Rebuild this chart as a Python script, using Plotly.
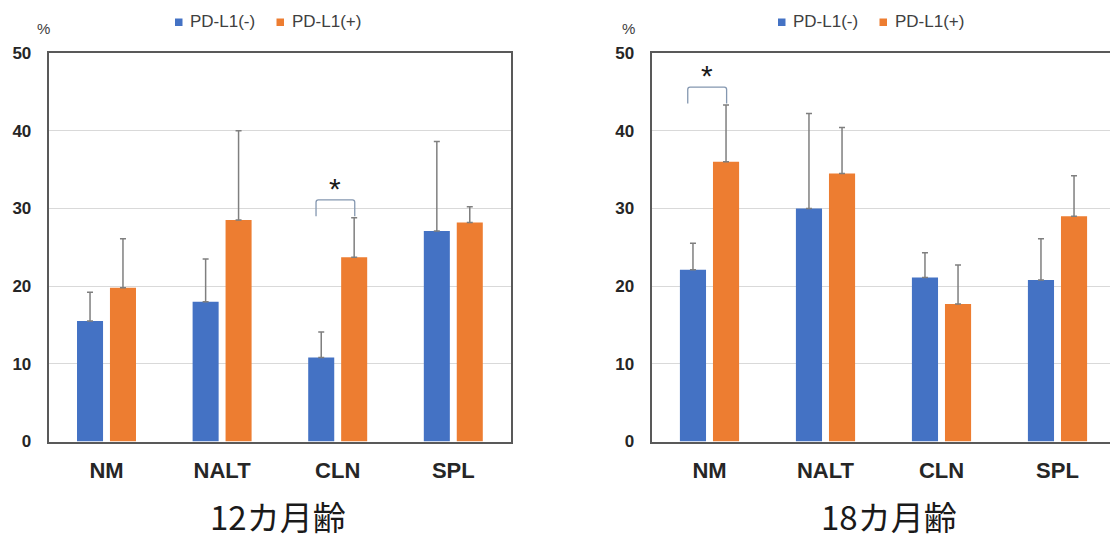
import plotly.graph_objects as go

# Data (mean ± SD, %)
categories = ["NM", "NALT", "CLN", "SPL"]

m12_neg = [15.5, 18.0, 10.8, 27.1]
m12_neg_sd = [3.7, 5.5, 3.3, 11.5]
m12_pos = [19.8, 28.5, 23.7, 28.2]
m12_pos_sd = [6.3, 11.5, 5.1, 2.0]

m18_neg = [22.1, 30.0, 21.1, 20.8]
m18_neg_sd = [3.4, 12.2, 3.2, 5.3]
m18_pos = [36.0, 34.5, 17.7, 29.0]
m18_pos_sd = [7.3, 5.9, 5.0, 5.2]

series_names = ["PD-L1(-)", "PD-L1(+)"]
panel_titles = ["12カ月齢", "18カ月齢"]
y_ticks = [0, 10, 20, 30, 40, 50]

# significant pair per panel: category index
sig_12 = 2   # CLN
sig_18 = 0   # NM

W, H = 1110, 542
BLUE = "#4472C4"
ORANGE = "#ED7D31"
ERR = "#7F7F7F"
AXIS = "#595959"
GRID = "#D9D9D9"
TXT = "#262626"
BARGAP = 0.43
BARGROUPGAP = 0.21


def px(x):
    return x / W


def py(y):
    return 1 - y / H


def err(sd):
    return dict(type="data", array=sd, arrayminus=[0] * len(sd), symmetric=False,
                color=ERR, thickness=1.5, width=3)


fig = go.Figure()
panels = [
    ("x", "y", m12_neg, m12_neg_sd, m12_pos, m12_pos_sd),
    ("x2", "y2", m18_neg, m18_neg_sd, m18_pos, m18_pos_sd),
]
for xa, ya, neg, neg_sd, pos, pos_sd in panels:
    fig.add_trace(go.Bar(x=list(range(len(categories))), y=neg, error_y=err(neg_sd),
                         marker=dict(color=BLUE, line=dict(width=0)),
                         name=series_names[0], xaxis=xa, yaxis=ya, showlegend=False,
                         offsetgroup="neg"))
    fig.add_trace(go.Bar(x=list(range(len(categories))), y=pos, error_y=err(pos_sd),
                         marker=dict(color=ORANGE, line=dict(width=0)),
                         name=series_names[1], xaxis=xa, yaxis=ya, showlegend=False,
                         offsetgroup="pos"))

# plot-area geometry in pixels
left_x0, cat_w_left = 48.7, 115.6
right_x0, cat_w_right = 651.5, 116.0
y_top, y_bot = 53, 441.5
ydom = [py(y_bot), py(y_top)]

tickfont = dict(family="Liberation Sans, Arial", size=17, color=TXT)
catfont = dict(family="Liberation Sans, Arial", size=22, color=TXT)

common_x = dict(tickmode="array", tickvals=list(range(len(categories))),
                ticktext=[f"<b>{c}</b>" for c in categories], tickfont=catfont,
                showgrid=False, zeroline=False, showline=True, linecolor=AXIS,
                linewidth=2, ticks="", ticklabelstandoff=8, fixedrange=True,
                automargin=False)
common_y = dict(range=[0, 50], tickmode="array", tickvals=y_ticks,
                ticktext=[f"<b>{t}</b>" for t in y_ticks], tickfont=tickfont,
                showgrid=True, gridcolor=GRID, gridwidth=1, zeroline=False,
                showline=True, linecolor=AXIS, linewidth=2, ticks="",
                ticklabelstandoff=12, fixedrange=True, automargin=False)

right_span = (W - right_x0) / cat_w_right

fig.update_layout(
    width=W, height=H,
    margin=dict(l=0, r=0, t=0, b=0, autoexpand=False),
    paper_bgcolor="white", plot_bgcolor="white",
    barmode="group", bargap=BARGAP, bargroupgap=BARGROUPGAP,
    showlegend=False,
    xaxis=dict(common_x, domain=[px(left_x0), px(left_x0 + 4 * cat_w_left)],
               range=[-0.5, 3.5], anchor="y", mirror=True),
    yaxis=dict(common_y, domain=ydom, anchor="x", mirror=True),
    xaxis2=dict(common_x, domain=[px(right_x0), 1.0],
                range=[-0.5, -0.5 + right_span], anchor="y2", mirror=True),
    yaxis2=dict(common_y, domain=ydom, anchor="x2", mirror=False),
)

# significance brackets
off = (1 - BARGAP) / 4


def bracket(idx, pos, pos_sd, xref, yref):
    top_err = pos[idx] + pos_sd[idx]
    x0 = idx - off - 0.045
    x1 = idx + off + 0.005
    yb = top_err + 0.2
    yt = top_err + 2.3
    rx, ry = 0.02, 0.3
    path = (f"M {x0},{yb} L {x0},{yt - ry} Q {x0},{yt} {x0 + rx},{yt} "
            f"L {x1 - rx},{yt} Q {x1},{yt} {x1},{yt - ry} L {x1},{yb}")
    fig.add_shape(type="path", path=path, xref=xref, yref=yref,
                  line=dict(color="#8497B0", width=1.3))
    fig.add_annotation(x=(x0 + x1) / 2, y=yt + 1.5, xref=xref, yref=yref,
                       text="*", showarrow=False,
                       font=dict(family="Liberation Sans, Arial", size=30, color="#1A1A1A"))


bracket(sig_12, m12_pos, m12_pos_sd, "x", "y")
bracket(sig_18, m18_pos, m18_pos_sd, "x2", "y2")

# legends, unit labels and panel titles
legfont = dict(family="Liberation Sans, Arial", size=17, color="#404040")
for dx in (0, 603):
    for k, (name, col) in enumerate(zip(series_names, [BLUE, ORANGE])):
        sq_x = 175 + dx + k * 101.5
        fig.add_shape(type="rect", xref="paper", yref="paper",
                      x0=px(sq_x), x1=px(sq_x + 7.5), y0=py(26), y1=py(18.5),
                      fillcolor=col, line=dict(width=0))
        fig.add_annotation(x=px(sq_x + 13), y=py(21.5), xref="paper", yref="paper",
                           text=name, showarrow=False, xanchor="left", yanchor="middle",
                           font=legfont)

for cx in (43, 628):
    fig.add_annotation(x=px(cx), y=py(28.5), xref="paper", yref="paper", text="%",
                       showarrow=False, xanchor="center", yanchor="middle",
                       font=dict(family="Liberation Sans, Arial", size=15, color="#404040"))

for cx, t in zip((278, 889), panel_titles):
    fig.add_annotation(x=px(cx), y=py(516), xref="paper", yref="paper", text=t,
                       showarrow=False, xanchor="center", yanchor="middle",
                       font=dict(family="Noto Sans CJK JP", size=33, color="#1A1A1A"))

fig.write_html("out.html")
